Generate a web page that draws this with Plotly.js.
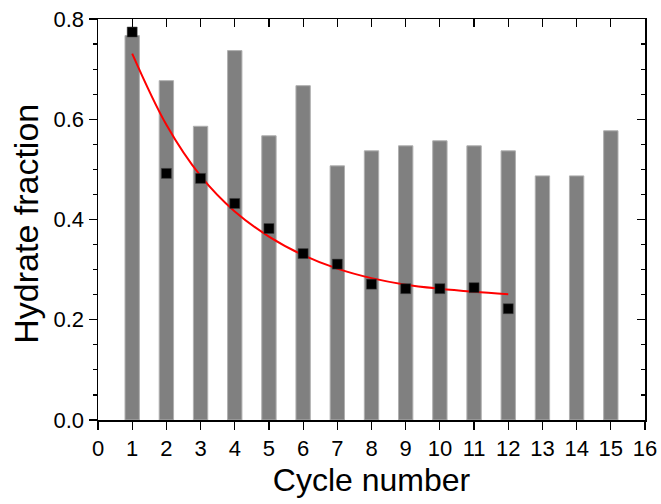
<!DOCTYPE html>
<html>
<head>
<meta charset="utf-8">
<script src="https://cdn.plot.ly/plotly-3.0.1.min.js"></script>
<style>html,body{margin:0;padding:0;background:#fff;}#chart{width:661px;height:504px;}</style>
</head>
<body>
<div id="chart"></div>
<script>
// Bars: hydrate fraction per cycle
const barCycles = [1, 2, 3, 4, 5, 6, 7, 8, 9, 10, 11, 12, 13, 14, 15];
const barValues = [0.767, 0.677, 0.586, 0.737, 0.567, 0.667, 0.507, 0.537, 0.547, 0.557, 0.547, 0.537, 0.487, 0.487, 0.577];

// Black squares
const pointCycles = [1, 2, 3, 4, 5, 6, 7, 8, 9, 10, 11, 12];
const pointValues = [0.774, 0.492, 0.482, 0.432, 0.382, 0.332, 0.311, 0.271, 0.262, 0.262, 0.264, 0.222];

// Red fitted curve
const fitCycles = [1, 2, 3, 4, 5, 6, 7, 8, 9, 10, 11, 12];
const fitValues = [0.731, 0.589, 0.487, 0.416, 0.366, 0.329, 0.302, 0.283, 0.270, 0.262, 0.256, 0.251];

const xTickVals = [0, 1, 2, 3, 4, 5, 6, 7, 8, 9, 10, 11, 12, 13, 14, 15, 16];
const yTickVals = [0.0, 0.2, 0.4, 0.6, 0.8];

const FONT = 'Arial, "Liberation Sans", sans-serif';

const traces = [
  {
    type: 'bar', x: barCycles, y: barValues, width: 0.42,
    marker: {color: '#808080', line: {color: '#b0b0b0', width: 1}},
    hoverinfo: 'skip', showlegend: false
  },
  {
    type: 'scatter', mode: 'lines', x: fitCycles, y: fitValues,
    line: {color: '#ff0000', width: 2, shape: 'spline'},
    hoverinfo: 'skip', showlegend: false
  },
  {
    type: 'scatter', mode: 'markers', x: pointCycles, y: pointValues,
    marker: {symbol: 'square', size: 10, color: '#000000', line: {color: '#404040', width: 0.5}},
    hoverinfo: 'skip', showlegend: false
  },
  {
    type: 'scatter', mode: 'markers', x: pointCycles, y: pointValues,
    xaxis: 'x2', yaxis: 'y2', marker: {opacity: 0},
    hoverinfo: 'skip', showlegend: false
  }
];

const layout = {
  width: 661, height: 504,
  margin: {l: 98, r: 16, t: 19, b: 84},
  paper_bgcolor: '#ffffff', plot_bgcolor: '#ffffff',
  font: {family: FONT, color: '#000000'},
  showlegend: false,
  xaxis: {
    range: [0, 16], tickvals: xTickVals, ticktext: xTickVals.map(String),
    ticks: 'outside', ticklen: 8, tickwidth: 1.2, tickcolor: '#000',
    showline: true, linecolor: '#000', linewidth: 1.5,
    showgrid: false, zeroline: false,
    tickfont: {family: FONT, size: 22, color: '#000'},
    title: {text: 'Cycle number', font: {family: FONT, size: 32, color: '#000'}, standoff: 8}
  },
  yaxis: {
    range: [0, 0.8], tickvals: yTickVals, ticktext: yTickVals.map(v => v.toFixed(1)),
    ticks: 'outside', ticklen: 8, tickwidth: 1.2, tickcolor: '#000',
    minor: {dtick: 0.05, tick0: 0, ticks: 'outside', ticklen: 4, tickwidth: 1.2, tickcolor: '#000', showgrid: false},
    showline: true, linecolor: '#000', linewidth: 1.5,
    showgrid: false, zeroline: false,
    tickfont: {family: FONT, size: 22, color: '#000'}
  },
  xaxis2: {
    overlaying: 'x', side: 'top', anchor: 'y2', range: [0, 16], tickvals: xTickVals,
    ticks: 'inside', ticklen: 8, tickwidth: 1.2, tickcolor: '#000',
    showticklabels: false, showline: true, linecolor: '#000', linewidth: 1.5,
    showgrid: false, zeroline: false
  },
  yaxis2: {
    overlaying: 'y', side: 'right', anchor: 'x2', range: [0, 0.8], tickvals: yTickVals,
    ticks: 'inside', ticklen: 8, tickwidth: 1.2, tickcolor: '#000',
    minor: {dtick: 0.05, tick0: 0, ticks: 'inside', ticklen: 4, tickwidth: 1.2, tickcolor: '#000', showgrid: false},
    showticklabels: false, showline: true, linecolor: '#000', linewidth: 1.5,
    showgrid: false, zeroline: false
  },
  annotations: [{
    text: 'Hydrate fraction', textangle: -90, showarrow: false,
    xref: 'paper', yref: 'paper', x: -0.133, y: 0.49,
    xanchor: 'center', yanchor: 'middle',
    font: {family: FONT, size: 34, color: '#000'}
  }]
};

Plotly.newPlot('chart', traces, layout, {displayModeBar: false, staticPlot: true});
</script>
</body>
</html>
